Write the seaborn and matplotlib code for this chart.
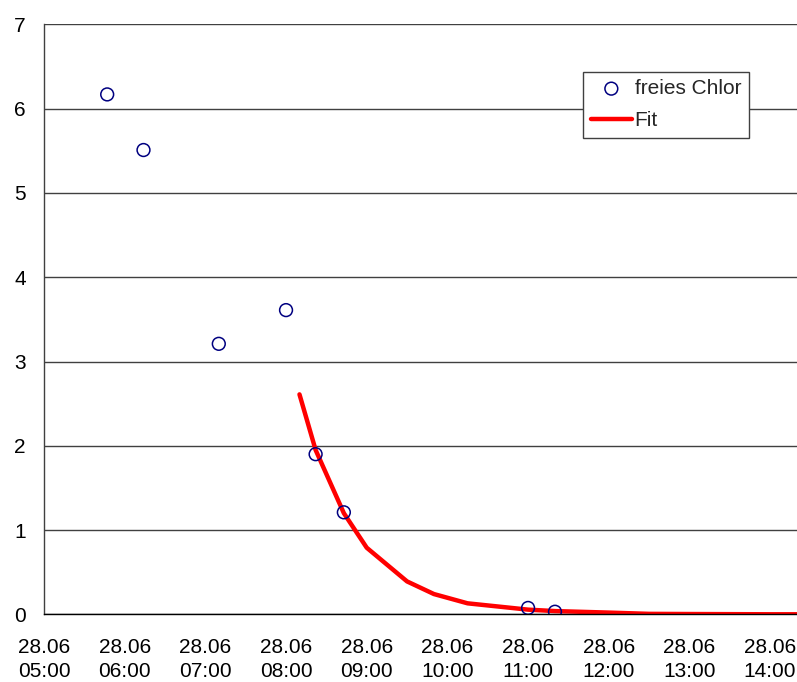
import matplotlib
matplotlib.use("Agg")
import matplotlib.pyplot as plt
import matplotlib.dates as mdates
import pandas as pd
import seaborn as sns

# Measured free chlorine (mg/l) and time of each sample
sample_times = ["05:47", "06:14", "07:10", "08:00", "08:22", "08:43", "11:00", "11:20"]
free_chlorine = [6.17, 5.51, 3.21, 3.61, 1.90, 1.21, 0.075, 0.03]

# Fitted decay curve
fit_times = ["08:10", "08:22", "08:43", "09:00", "09:30", "09:50", "10:15",
             "11:00", "11:20", "12:00", "12:30", "13:00", "14:00", "14:21"]
fit_values = [2.61, 1.95, 1.20, 0.79, 0.39, 0.24, 0.13,
              0.055, 0.038, 0.02, 0.005, 0.003, 0.0, 0.0]

tick_times = ["05:00", "06:00", "07:00", "08:00", "09:00", "10:00",
              "11:00", "12:00", "13:00", "14:00"]
day = "2008-06-28 "


def to_dt(times):
    return pd.to_datetime([day + t for t in times])


samples = pd.DataFrame({"time": to_dt(sample_times), "value": free_chlorine})
fit = pd.DataFrame({"time": to_dt(fit_times), "value": fit_values})

sns.set_theme(style="white")
plt.rcParams["font.family"] = ["Liberation Sans", "DejaVu Sans"]

fig = plt.figure(figsize=(7.97, 6.82), dpi=100)
ax = fig.add_axes([0.0552, 0.0993, 0.9448, 0.8648])

sns.lineplot(data=fit, x="time", y="value", ax=ax, color="#ff0000",
             linewidth=3.2, label="Fit", zorder=2)
sns.scatterplot(data=samples, x="time", y="value", ax=ax, marker="o",
                s=85, facecolor="none", edgecolor="#000080", linewidth=1.1,
                label="freies Chlor", zorder=3)

ax.set_ylim(0, 7)
ax.set_yticks(range(0, 8))
ax.set_xlim(pd.Timestamp(day + "05:00"), pd.Timestamp(day + "14:20"))
ax.set_xticks(to_dt(tick_times))
ax.xaxis.set_major_formatter(mdates.DateFormatter("%d.%m\n%H:%M"))
ax.set_xlabel("")
ax.set_ylabel("")

ax.grid(axis="y", color="#404040", linewidth=1.0)
ax.grid(axis="x", visible=False)
ax.set_axisbelow(True)
for side in ("top", "right"):
    ax.spines[side].set_visible(False)
ax.spines["left"].set_color("#404040")
ax.spines["bottom"].set_color("#000000")
ax.spines["left"].set_linewidth(1.0)
ax.spines["bottom"].set_linewidth(1.0)
ax.tick_params(axis="both", direction="out", length=5, width=1,
               color="#404040", labelsize=15, labelcolor="black")
ax.tick_params(axis="y", pad=8)
ax.tick_params(axis="x", pad=12)
for lbl in ax.get_xticklabels():
    lbl.set_linespacing(1.36)

handles, labels = ax.get_legend_handles_labels()
order = [labels.index("freies Chlor"), labels.index("Fit")]
leg = ax.legend([handles[i] for i in order], [labels[i] for i in order],
                loc="upper left", bbox_to_anchor=(0.7315, 0.895),
                bbox_transform=fig.transFigure, borderaxespad=0,
                fontsize=15, frameon=True, fancybox=False,
                edgecolor="#404040", framealpha=1, handlelength=2.0,
                handletextpad=0.12, borderpad=0.36, labelspacing=0.64)
leg.get_frame().set_linewidth(1.0)

fig.savefig("out.png", dpi=100)
